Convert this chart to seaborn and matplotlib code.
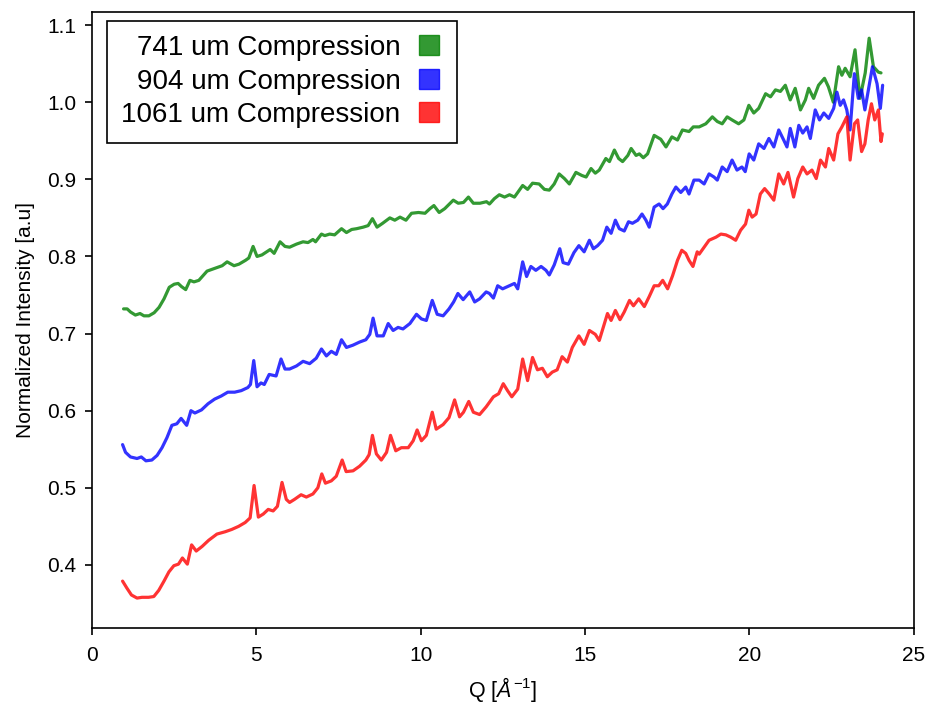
import numpy as np
import pandas as pd
import matplotlib
matplotlib.use("Agg")
import matplotlib.pyplot as plt
from matplotlib.lines import Line2D
import seaborn as sns

labels = ["741 um Compression", "904 um Compression", "1061 um Compression"]
colors = ["g", "b", "r"]

q_741 = [0.96, 1.07, 1.17, 1.32, 1.46, 1.58, 1.73, 1.89, 2.04, 2.19, 2.35, 2.5, 2.62, 2.72, 2.85, 2.98, 3.1, 3.25, 3.5, 3.7, 3.96, 4.11, 4.32, 4.47, 4.67, 4.77, 4.9, 5.02, 5.17, 5.42, 5.54, 5.72, 5.87,
         6.01, 6.22, 6.42, 6.57, 6.72, 6.8, 6.98, 7.08, 7.23, 7.38, 7.59, 7.74, 7.9, 8.05, 8.25, 8.4, 8.53, 8.67, 8.84, 9.06, 9.21, 9.37, 9.55, 9.72, 9.93, 10.13, 10.28, 10.4, 10.56, 10.73, 10.99, 11.14, 11.3, 11.45, 11.6, 11.8, 12.0,
         12.09, 12.24, 12.39, 12.55, 12.7, 12.85, 13.1, 13.25, 13.4, 13.6, 13.76, 13.91, 14.06, 14.21, 14.37, 14.52, 14.72, 14.9, 15.03, 15.18, 15.31, 15.43, 15.63, 15.74, 15.89, 16.02, 16.14, 16.3, 16.4, 16.55, 16.65, 16.77, 16.9, 17.1, 17.3, 17.46, 17.64, 17.81, 17.96, 18.16, 18.29,
         18.47, 18.67, 18.87, 19.02, 19.17, 19.32, 19.47, 19.67, 19.83, 19.98, 20.13, 20.28, 20.49, 20.64, 20.79, 20.94, 21.09, 21.24, 21.39, 21.55, 21.7, 21.8, 21.95, 22.1, 22.28, 22.4, 22.55, 22.71, 22.81, 22.91, 23.06, 23.21, 23.36, 23.52, 23.64, 23.77, 23.92, 24.0]
i_741 = [0.732, 0.732, 0.728, 0.724, 0.726, 0.723, 0.723, 0.727, 0.734, 0.745, 0.760, 0.764, 0.765, 0.761, 0.757, 0.769, 0.767, 0.769, 0.781, 0.784, 0.788, 0.793, 0.788, 0.790, 0.795, 0.798, 0.813, 0.800, 0.802, 0.809, 0.804, 0.819, 0.813,
         0.812, 0.816, 0.819, 0.818, 0.822, 0.819, 0.829, 0.827, 0.829, 0.828, 0.836, 0.831, 0.835, 0.836, 0.838, 0.840, 0.849, 0.838, 0.843, 0.850, 0.847, 0.851, 0.847, 0.856, 0.857, 0.856, 0.862, 0.866, 0.857, 0.862, 0.873, 0.869, 0.870, 0.877, 0.869, 0.869, 0.871,
         0.868, 0.875, 0.880, 0.877, 0.880, 0.877, 0.892, 0.887, 0.895, 0.894, 0.887, 0.886, 0.894, 0.907, 0.901, 0.894, 0.909, 0.905, 0.903, 0.914, 0.908, 0.912, 0.927, 0.923, 0.938, 0.927, 0.923, 0.931, 0.940, 0.931, 0.933, 0.928, 0.933, 0.957, 0.952, 0.942, 0.955, 0.951, 0.964, 0.962, 0.968,
         0.968, 0.972, 0.981, 0.975, 0.972, 0.981, 0.977, 0.972, 0.977, 0.996, 0.986, 0.992, 1.011, 1.007, 1.016, 1.014, 1.022, 1.003, 1.018, 0.990, 1.003, 1.018, 1.005, 1.022, 1.031, 1.020, 1.000, 1.046, 1.035, 1.044, 1.033, 1.068, 1.005, 1.038, 1.083, 1.046, 1.039, 1.038]

q_904 = [0.93, 1.02, 1.17, 1.37, 1.5, 1.64, 1.82, 1.98, 2.13, 2.28, 2.43, 2.58, 2.71, 2.88, 3.01, 3.13, 3.33, 3.53, 3.73, 3.93, 4.13, 4.34, 4.54, 4.74, 4.82, 4.92, 5.02, 5.14, 5.24, 5.39, 5.6, 5.75, 5.87,
         6.01, 6.22, 6.42, 6.62, 6.82, 6.98, 7.13, 7.28, 7.43, 7.59, 7.74, 7.94, 8.14, 8.33, 8.45, 8.55, 8.67, 8.86, 9.01, 9.16, 9.31, 9.46, 9.67, 9.87, 10.02, 10.17, 10.35, 10.5, 10.68, 10.86, 11.0, 11.13, 11.29, 11.49, 11.64, 11.79, 11.99,
         12.09, 12.21, 12.34, 12.49, 12.7, 12.85, 12.95, 13.1, 13.22, 13.35, 13.5, 13.66, 13.81, 13.91, 14.06, 14.23, 14.33, 14.49, 14.66, 14.81, 14.97, 15.13, 15.25, 15.38, 15.53, 15.66, 15.79, 15.92, 16.04, 16.19, 16.32, 16.44, 16.6, 16.73, 16.85, 16.95, 17.1, 17.25, 17.37, 17.5, 17.64, 17.76, 17.91, 18.06, 18.16, 18.31,
         18.47, 18.62, 18.77, 18.92, 19.02, 19.17, 19.32, 19.47, 19.62, 19.77, 19.87, 19.99, 20.13, 20.28, 20.44, 20.59, 20.74, 20.89, 21.04, 21.14, 21.24, 21.38, 21.5, 21.62, 21.75, 21.85, 22.0, 22.13, 22.26, 22.41, 22.56, 22.66, 22.76, 22.86, 22.96, 23.06, 23.19, 23.31, 23.41, 23.51, 23.64, 23.74, 23.88, 23.98, 24.05]
i_904 = [0.556, 0.546, 0.540, 0.538, 0.540, 0.535, 0.536, 0.542, 0.552, 0.565, 0.581, 0.583, 0.590, 0.581, 0.600, 0.597, 0.601, 0.609, 0.615, 0.619, 0.624, 0.624, 0.626, 0.630, 0.634, 0.665, 0.631, 0.636, 0.634, 0.647, 0.645, 0.667, 0.654,
         0.654, 0.658, 0.664, 0.661, 0.668, 0.680, 0.671, 0.677, 0.673, 0.692, 0.682, 0.685, 0.689, 0.692, 0.699, 0.720, 0.697, 0.697, 0.713, 0.704, 0.708, 0.706, 0.713, 0.725, 0.719, 0.717, 0.743, 0.725, 0.723, 0.732, 0.741, 0.752, 0.744, 0.754, 0.741, 0.745, 0.754,
         0.752, 0.746, 0.762, 0.758, 0.762, 0.765, 0.758, 0.793, 0.774, 0.787, 0.782, 0.787, 0.782, 0.776, 0.789, 0.810, 0.792, 0.790, 0.805, 0.814, 0.806, 0.821, 0.810, 0.814, 0.821, 0.838, 0.830, 0.847, 0.836, 0.833, 0.845, 0.843, 0.847, 0.855, 0.847, 0.838, 0.864, 0.868, 0.862, 0.868, 0.881, 0.890, 0.883, 0.890, 0.881, 0.899,
         0.899, 0.894, 0.907, 0.903, 0.899, 0.916, 0.910, 0.925, 0.912, 0.916, 0.910, 0.933, 0.925, 0.946, 0.940, 0.953, 0.942, 0.964, 0.951, 0.942, 0.966, 0.942, 0.970, 0.960, 0.968, 0.953, 0.990, 0.977, 0.986, 0.979, 0.992, 1.013, 0.996, 1.003, 0.990, 0.964, 1.037, 1.005, 1.016, 0.990, 1.022, 1.046, 1.024, 0.992, 1.022]

q_1061 = [0.93, 1.06, 1.2, 1.37, 1.52, 1.72, 1.88, 2.03, 2.19, 2.34, 2.49, 2.63, 2.75, 2.9, 3.03, 3.17, 3.35, 3.55, 3.8, 4.05, 4.25, 4.46, 4.66, 4.81, 4.93, 5.06, 5.21, 5.36, 5.51, 5.64, 5.78, 5.91,
          6.01, 6.16, 6.36, 6.52, 6.72, 6.87, 6.99, 7.1, 7.28, 7.43, 7.61, 7.73, 7.94, 8.14, 8.33, 8.43, 8.53, 8.65, 8.8, 8.96, 9.08, 9.24, 9.41, 9.62, 9.77, 9.89, 10.02, 10.17, 10.35, 10.47, 10.68, 10.86, 11.03, 11.18, 11.3, 11.46, 11.6, 11.79, 11.99,
          12.09, 12.21, 12.37, 12.51, 12.64, 12.77, 12.95, 13.1, 13.25, 13.4, 13.55, 13.7, 13.85, 14.0, 14.15, 14.3, 14.46, 14.61, 14.81, 14.97, 15.13, 15.31, 15.43, 15.58, 15.68, 15.79, 15.92, 16.06, 16.19, 16.35, 16.47, 16.63, 16.8, 16.95, 17.1, 17.24, 17.36, 17.51, 17.66, 17.81, 17.94, 18.06, 18.16, 18.28, 18.41,
          18.47, 18.62, 18.77, 18.98, 19.13, 19.28, 19.43, 19.58, 19.73, 19.88, 19.98, 20.08, 20.2, 20.33, 20.46, 20.6, 20.74, 20.89, 21.04, 21.17, 21.34, 21.47, 21.62, 21.75, 21.9, 22.03, 22.16, 22.31, 22.41, 22.56, 22.69, 22.81, 22.96, 23.06, 23.19, 23.29, 23.41, 23.51, 23.61, 23.71, 23.81, 23.92, 24.0, 24.04]
i_1061 = [0.379, 0.370, 0.361, 0.357, 0.358, 0.358, 0.359, 0.367, 0.379, 0.391, 0.399, 0.401, 0.409, 0.401, 0.426, 0.418, 0.424, 0.432, 0.440, 0.443, 0.446, 0.450, 0.455, 0.461, 0.503, 0.462, 0.466, 0.472, 0.470, 0.476, 0.507, 0.485,
          0.481, 0.485, 0.491, 0.488, 0.492, 0.500, 0.518, 0.506, 0.509, 0.515, 0.536, 0.521, 0.522, 0.528, 0.536, 0.543, 0.568, 0.544, 0.536, 0.546, 0.568, 0.548, 0.552, 0.552, 0.561, 0.575, 0.561, 0.568, 0.598, 0.576, 0.582, 0.591, 0.614, 0.592, 0.598, 0.612, 0.598, 0.595, 0.605,
          0.611, 0.618, 0.622, 0.635, 0.626, 0.618, 0.628, 0.667, 0.639, 0.669, 0.653, 0.655, 0.644, 0.650, 0.653, 0.670, 0.663, 0.682, 0.697, 0.686, 0.704, 0.699, 0.691, 0.712, 0.726, 0.717, 0.730, 0.718, 0.728, 0.743, 0.736, 0.745, 0.735, 0.748, 0.762, 0.762, 0.769, 0.758, 0.775, 0.795, 0.808, 0.804, 0.795, 0.787, 0.806,
          0.803, 0.812, 0.821, 0.825, 0.829, 0.828, 0.825, 0.821, 0.834, 0.842, 0.860, 0.851, 0.855, 0.881, 0.888, 0.881, 0.873, 0.907, 0.894, 0.909, 0.877, 0.901, 0.916, 0.907, 0.912, 0.901, 0.925, 0.916, 0.940, 0.925, 0.959, 0.968, 0.981, 0.925, 0.972, 0.977, 0.936, 0.946, 0.977, 0.998, 0.977, 0.990, 0.949, 0.959]

frames = []
for lab, q, v in zip(labels, [q_741, q_904, q_1061], [i_741, i_904, i_1061]):
    frames.append(pd.DataFrame({"Q": q, "I": v, "sample": lab}))
df = pd.concat(frames, ignore_index=True)

sns.set_style("ticks")
plt.rcParams["font.family"] = ["Liberation Sans", "DejaVu Sans"]
plt.rcParams["mathtext.fontset"] = "custom"
plt.rcParams["mathtext.rm"] = "Liberation Sans"
plt.rcParams["mathtext.it"] = "Liberation Sans:italic"

fig = plt.figure(figsize=(9.35, 7.05), dpi=100)
ax = fig.add_axes([0.0984, 0.109, 0.879, 0.874])

sns.lineplot(data=df, x="Q", y="I", hue="sample", palette=dict(zip(labels, colors)),
             estimator=None, sort=False, linewidth=2.3, alpha=0.8, legend=False, ax=ax)

ax.set_xlim(0, 25)
ax.set_ylim(0.318, 1.117)
ax.set_xticks([0, 5, 10, 15, 20, 25])
ax.set_yticks([0.4, 0.5, 0.6, 0.7, 0.8, 0.9, 1.0, 1.1])
ax.set_yticklabels(["0.4", "0.5", "0.6", "0.7", "0.8", "0.9", "1.0", "1.1"])
ax.tick_params(axis="both", labelsize=15, colors="black", length=5, width=1.2, pad=6)
ax.tick_params(axis="x", pad=8)
ax.set_xlabel(r"Q [$\AA^{-1}$]", fontsize=15.5, color="black", labelpad=7)
ax.set_ylabel("Normalized Intensity [a.u]", fontsize=15, color="black", labelpad=9)
for s in ax.spines.values():
    s.set_color("black")
    s.set_linewidth(1.2)

handles = [Line2D([], [], linestyle="none", marker="s", markersize=14.5,
                  markerfacecolor=c, markeredgecolor=c, alpha=0.8) for c in colors]
leg = ax.legend(handles, labels, loc="upper left", bbox_to_anchor=(0.0179, 0.986),
                borderaxespad=0, fontsize=20, markerfirst=False,
                frameon=True, fancybox=False, edgecolor="black", framealpha=1,
                labelspacing=0.27, handlelength=1.0, handletextpad=0.52,
                borderpad=0.52, labelcolor="black")
leg.get_frame().set_linewidth(1.2)

fig.savefig("out.png", dpi=100)
